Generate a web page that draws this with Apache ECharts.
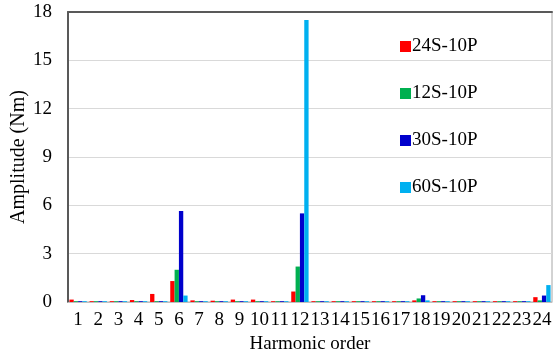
<!DOCTYPE html>
<html>
<head>
<meta charset="utf-8">
<script src="https://cdn.jsdelivr.net/npm/echarts@6/dist/echarts.min.js"></script>
<style>
  html, body { margin: 0; padding: 0; background: #fff; }
  #chart { width: 553px; height: 360px; }
</style>
</head>
<body>
<div id="chart"></div>
<script>
// Harmonic orders 1..24
const harmonics = ['1','2','3','4','5','6','7','8','9','10','11','12','13','14','15','16','17','18','19','20','21','22','23','24'];

// Torque harmonic amplitudes (Nm) per slot/pole combination
const s24s10p = [0.15,0.05,0.05,0.12,0.5,1.3,0.1,0.08,0.15,0.15,0.05,0.65,0.05,0.05,0.05,0.05,0.05,0.1,0.05,0.05,0.05,0.05,0.05,0.3];
const s12s10p = [0.05,0.05,0.05,0.05,0.05,2.0,0.05,0.05,0.05,0.05,0.05,2.2,0.05,0.05,0.05,0.05,0.05,0.22,0.05,0.05,0.05,0.05,0.05,0.1];
const s30s10p = [0.05,0.05,0.05,0.05,0.05,5.65,0.05,0.05,0.05,0.05,0.05,5.5,0.05,0.05,0.05,0.05,0.05,0.42,0.05,0.05,0.05,0.05,0.05,0.4];
const s60s10p = [0.05,0.05,0.05,0.05,0.05,0.4,0.05,0.05,0.05,0.05,0.05,17.5,0.05,0.05,0.05,0.05,0.05,0.1,0.05,0.05,0.05,0.05,0.05,1.05];

const yTicks = [0, 3, 6, 9, 12, 15, 18];

const seriesDefs = [
  { name: '24S-10P', data: s24s10p, color: '#ff0000' },
  { name: '12S-10P', data: s12s10p, color: '#00b050' },
  { name: '30S-10P', data: s30s10p, color: '#0000cc' },
  { name: '60S-10P', data: s60s10p, color: '#00b0f0' }
];

const font = 'Liberation Serif, Times New Roman, serif';
const chart = echarts.init(document.getElementById('chart'));

chart.setOption({
  animation: false,
  backgroundColor: '#fff',
  grid: {
    left: 68, right: 1, top: 12, bottom: 58,
    outerBoundsMode: 'none',
    containLabel: false,
    show: true, borderColor: '#a6a6a6', borderWidth: 1
  },
  legend: {
    orient: 'vertical',
    left: 395, top: 32,
    itemGap: 28,
    itemWidth: 11, itemHeight: 11,
    icon: 'rect',
    textStyle: { fontFamily: font, fontSize: 19, color: '#000', padding: [0, 0, 0, -4] },
    data: seriesDefs.map(s => s.name)
  },
  xAxis: [{
    type: 'category',
    data: harmonics,
    name: 'Harmonic order',
    nameLocation: 'middle',
    nameGap: 30,
    nameTextStyle: { fontFamily: font, fontSize: 19, color: '#000' },
    axisLine: { show: true, lineStyle: { color: '#bfbfbf', width: 1 } },
    axisTick: { show: false },
    axisLabel: { interval: 0, fontFamily: font, fontSize: 19, color: '#000', margin: 9 }
  }, {
    // frame line along the top of the plot
    type: 'category',
    position: 'top',
    data: harmonics,
    axisLine: { show: true, lineStyle: { color: '#595959', width: 2 } },
    axisTick: { show: false },
    axisLabel: { show: false },
    splitLine: { show: false }
  }],
  yAxis: {
    type: 'value',
    min: 0, max: 18, interval: 3,
    name: 'Amplitude (Nm)',
    nameLocation: 'middle',
    nameGap: 39,
    nameMoveOverlap: false,
    nameTextStyle: { fontFamily: font, fontSize: 20, color: '#000' },
    axisLine: { show: true, lineStyle: { color: '#595959', width: 2 } },
    axisTick: { show: false },
    axisLabel: {
      fontFamily: font, fontSize: 19, color: '#000', margin: 16,
      formatter: v => yTicks.includes(v) ? String(v) : ''
    },
    splitLine: { show: true, lineStyle: { color: '#d9d9d9', width: 1 } }
  },
  series: seriesDefs.map(s => ({
    name: s.name,
    type: 'bar',
    xAxisIndex: 0,
    data: s.data,
    barGap: '0%',
    barCategoryGap: '14%',
    itemStyle: { color: s.color }
  }))
});
</script>
</body>
</html>
